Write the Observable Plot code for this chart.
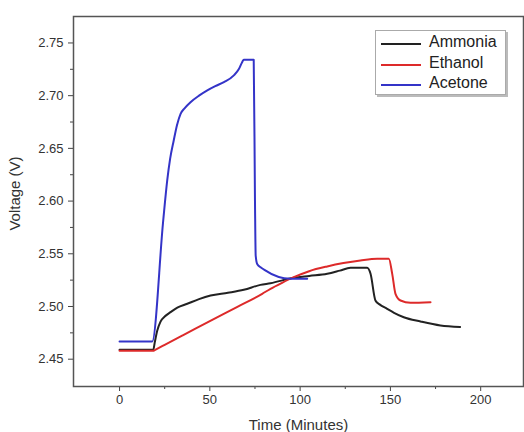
<!DOCTYPE html>
<html>
<head>
<meta charset="utf-8">
<script src="https://cdn.jsdelivr.net/npm/d3@7"></script>
<script src="https://cdn.jsdelivr.net/npm/@observablehq/plot@0.6"></script>
<style>
  body { margin: 0; background: #fff; }
  #wrap { position: relative; width: 524px; height: 432px; font-family: "Liberation Sans", Arial, sans-serif; }
  #legend { position: absolute; left: 375px; top: 30px; width: 129px; height: 63px; border: 1px solid #aaa; box-shadow: 2px 2px 0 #bbb; background: #fff; }
  .row { position: absolute; left: 0; height: 20px; font-size: 16px; color: #222; }
  .sw { position: absolute; left: 5px; top: 10px; width: 40px; height: 0; border-top: 2px solid; }
  .lb { position: absolute; left: 53px; top: 0px; white-space: nowrap; }
</style>
</head>
<body>
<div id="wrap"></div>
<script>
const seriesNames = ["Ammonia", "Ethanol", "Acetone"];
const seriesColors = ["#222222", "#dd2a2a", "#3434c8"];

const ammoniaTime = [0, 18.7, 19.5, 20.9, 22.7, 25, 28.2, 32, 37.5, 44, 50.4, 60, 68.8, 78, 83.6, 96.5, 105, 115, 122, 127.9, 137.1, 139, 141.7, 144, 148.2, 152, 157.4, 166.7, 177.7, 188.6];
const ammoniaVolt = [2.459, 2.459, 2.466, 2.4772, 2.4857, 2.4905, 2.4946, 2.499, 2.5026, 2.507, 2.5104, 2.513, 2.5158, 2.5205, 2.5221, 2.5272, 2.529, 2.531, 2.534, 2.5367, 2.5367, 2.531, 2.5057, 2.502, 2.4978, 2.494, 2.4898, 2.4858, 2.482, 2.4805];

const ethanolTime = [0, 18.7, 19.5, 25, 35, 50, 65, 79, 83.6, 90, 96.5, 105, 115, 124, 133.4, 142.7, 149.1, 151, 152.8, 155.6, 161.1, 172.2];
const ethanolVolt = [2.458, 2.458, 2.4587, 2.4636, 2.4726, 2.4862, 2.4995, 2.512, 2.5168, 2.5225, 2.5278, 2.5335, 2.538, 2.5412, 2.5437, 2.5453, 2.5453, 2.531, 2.512, 2.5057, 2.5035, 2.5041];

const acetoneTime = [0, 18.1, 24.1, 26.4, 28, 30, 31.8, 33.8, 36, 39.3, 44, 48.6, 53, 57.8, 63.3, 66, 67.9, 68.8, 74.3, 75.0, 75.4, 76.3, 78.1, 80, 94.7, 103.9];
const acetoneVolt = [2.4668, 2.4668, 2.58, 2.6196, 2.64, 2.6575, 2.672, 2.6828, 2.688, 2.6938, 2.7, 2.705, 2.709, 2.7128, 2.7192, 2.725, 2.7318, 2.7341, 2.7341, 2.60, 2.548, 2.540, 2.5373, 2.535, 2.5263, 2.5263];

const xTicks = [0, 50, 100, 150, 200];
const xMinorTicks = [25, 75, 125, 175];
const yTicks = [2.45, 2.50, 2.55, 2.60, 2.65, 2.70, 2.75];
const yMinorTicks = [2.475, 2.525, 2.575, 2.625, 2.675, 2.725];
const xLabel = "Time (Minutes)";
const yLabel = "Voltage (V)";

const times = [ammoniaTime, ethanolTime, acetoneTime];
const volts = [ammoniaVolt, ethanolVolt, acetoneVolt];
const data = [];
seriesNames.forEach((name, i) => {
  times[i].forEach((t, j) => data.push({series: name, t, v: volts[i][j]}));
});

const chart = Plot.plot({
  width: 524,
  height: 432,
  marginLeft: 73,
  marginRight: 1,
  marginTop: 16,
  marginBottom: 46,
  style: {fontFamily: '"Liberation Sans", Arial, sans-serif', fontSize: "13px", color: "#333", background: "#fff"},
  x: {domain: [-25.5, 223.7]},
  y: {domain: [2.4241, 2.7751]},
  color: {domain: seriesNames, range: seriesColors},
  marks: [
    Plot.axisX(xMinorTicks, {tickSize: 3, text: null, stroke: "#444", label: null}),
    Plot.axisX(xTicks, {tickSize: 5, tickPadding: 3, stroke: "#444", fill: "#333", fontSize: 13, label: null}),
    Plot.axisY(yMinorTicks, {tickSize: 3, text: null, stroke: "#444", label: null}),
    Plot.axisY(yTicks, {tickSize: 5, tickPadding: 5, stroke: "#444", fill: "#333", fontSize: 13,
      tickFormat: d3.format(".2f"), label: null}),
    Plot.text([xLabel], {text: d => d, frameAnchor: "bottom", dy: 43, fontSize: 15, fill: "#333"}),
    Plot.text([yLabel], {text: d => d, frameAnchor: "left", textAnchor: "middle", rotate: -90, dx: -58, dy: -8, fontSize: 15, fill: "#333"}),
    Plot.line(data, {x: "t", y: "v", z: "series", stroke: "series", strokeWidth: 2, strokeLinejoin: "round", curve: "monotone-x"}),
    Plot.frame({stroke: "#555", strokeWidth: 1.5})
  ]
});

const wrap = document.getElementById("wrap");
wrap.appendChild(chart);

const legend = document.createElement("div");
legend.id = "legend";
seriesNames.forEach((name, i) => {
  const row = document.createElement("div");
  row.className = "row";
  row.style.top = (2 + i * 20.5) + "px";
  row.style.width = "129px";
  const sw = document.createElement("div");
  sw.className = "sw";
  sw.style.borderColor = seriesColors[i];
  const lb = document.createElement("div");
  lb.className = "lb";
  lb.textContent = name;
  row.appendChild(sw);
  row.appendChild(lb);
  legend.appendChild(row);
});
wrap.appendChild(legend);
</script>
</body>
</html>
